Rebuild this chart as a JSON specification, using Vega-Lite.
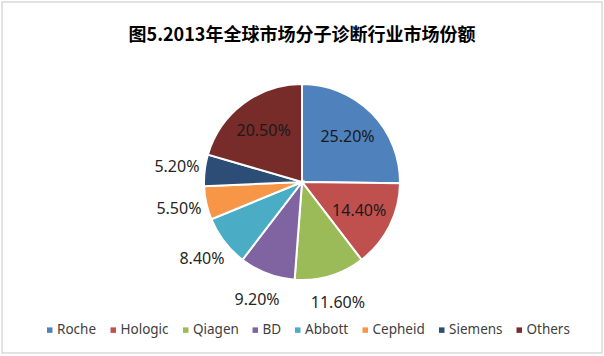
{
  "$schema": "https://vega.github.io/schema/vega-lite/v6.json",
  "width": 600,
  "height": 351,
  "autosize": {"type": "none"},
  "padding": {"left": 2, "right": 2, "top": 2, "bottom": 3},
  "background": "white",
  "view": {"stroke": "#d9d9d9", "strokeWidth": 1.5, "fill": "white"},
  "title": {
    "text": "图5.2013年全球市场分子诊断行业市场份额",
    "anchor": "middle",
    "frame": "group",
    "offset": -43,
    "font": "Noto Sans CJK SC",
    "fontSize": 18,
    "fontWeight": "bold",
    "color": "#000000"
  },
  "data": {
    "values": [
      {"company": "Roche", "share": 0.252, "order": 1},
      {"company": "Hologic", "share": 0.144, "order": 2},
      {"company": "Qiagen", "share": 0.116, "order": 3},
      {"company": "BD", "share": 0.092, "order": 4},
      {"company": "Abbott", "share": 0.084, "order": 5},
      {"company": "Cepheid", "share": 0.055, "order": 6},
      {"company": "Siemens", "share": 0.052, "order": 7},
      {"company": "Others", "share": 0.205, "order": 8}
    ]
  },
  "encoding": {
    "theta": {"field": "share", "type": "quantitative", "stack": true},
    "order": {"field": "order", "type": "quantitative"}
  },
  "layer": [
    {
      "mark": {"type": "arc", "outerRadius": 98, "stroke": "white", "strokeWidth": 2, "yOffset": 4.5},
      "encoding": {
        "color": {
          "field": "company",
          "type": "nominal",
          "scale": {
            "domain": ["Roche", "Hologic", "Qiagen", "BD", "Abbott", "Cepheid", "Siemens", "Others"],
            "range": ["#4F81BD", "#C0504D", "#9BBB59", "#8064A2", "#4BACC6", "#F79646", "#2C4D75", "#772C2A"]
          },
          "legend": {
            "title": null,
            "orient": "none",
            "direction": "horizontal",
            "legendX": 41,
            "legendY": 321,
            "symbolType": "square",
            "symbolSize": 30,
            "symbolStrokeWidth": 0,
            "labelFont": "Noto Sans",
            "labelFontSize": 13.5,
            "labelColor": "#404040",
            "labelOffset": 0.5,
            "columnPadding": 9.5
          }
        }
      }
    },
    {
      "mark": {"type": "text", "font": "Noto Sans", "fontSize": 16, "color": "#1a1a1a", "yOffset": 4.5, "radius": 64},
      "encoding": {
        "text": {"condition": {"test": "datum.share >= 0.14", "field": "share", "type": "quantitative", "format": ".2%"}, "value": ""}
      }
    },
    {
      "mark": {"type": "text", "font": "Noto Sans", "fontSize": 16, "color": "#262626", "yOffset": 4.5, "radius": 126},
      "encoding": {
        "text": {"condition": {"test": "datum.share < 0.14", "field": "share", "type": "quantitative", "format": ".2%"}, "value": ""}
      }
    }
  ]
}
